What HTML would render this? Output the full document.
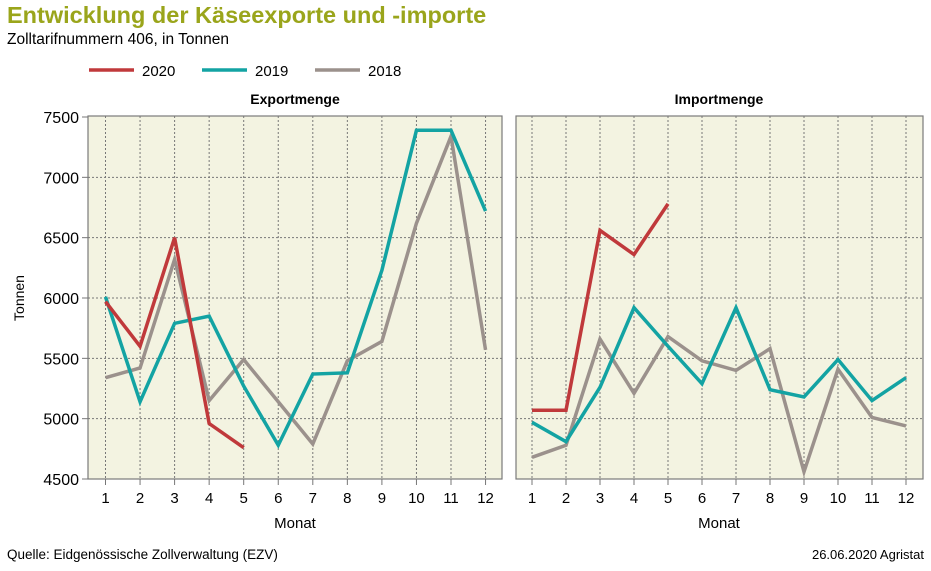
<!DOCTYPE html>
<html><head><meta charset="utf-8"><style>
body{margin:0;background:#fff;width:931px;height:566px;overflow:hidden;font-family:"Liberation Sans",sans-serif}
</style></head><body>
<svg id="s" width="931" height="566" xmlns="http://www.w3.org/2000/svg" font-family="Liberation Sans, sans-serif">
<text x="7" y="23" font-size="23.5" font-weight="bold" fill="#9aa51b">Entwicklung der Käseexporte und -importe</text>
<text x="7" y="44" font-size="15.5" fill="#000">Zolltarifnummern 406, in Tonnen</text>
<line x1="89" y1="70" x2="134" y2="70" stroke="#c0393b" stroke-width="3.5"/>
<text x="142" y="76" font-size="15">2020</text>
<line x1="202" y1="70" x2="247" y2="70" stroke="#13a3a3" stroke-width="3.5"/>
<text x="255" y="76" font-size="15">2019</text>
<line x1="315" y1="70" x2="360" y2="70" stroke="#9b918c" stroke-width="3.5"/>
<text x="368" y="76" font-size="15">2018</text>
<text x="295" y="104" font-size="14" font-weight="bold" text-anchor="middle">Exportmenge</text>
<text x="719" y="104" font-size="14" font-weight="bold" text-anchor="middle">Importmenge</text>
<text x="24" y="298" font-size="14" text-anchor="middle" transform="rotate(-90 24 298)">Tonnen</text>
<text x="295" y="528" font-size="15" text-anchor="middle">Monat</text>
<text x="719" y="528" font-size="15" text-anchor="middle">Monat</text>
<text x="7" y="559" font-size="13.5">Quelle: Eidgenössische Zollverwaltung (EZV)</text>
<text x="924" y="559" font-size="13" text-anchor="end">26.06.2020 Agristat</text>
<g id="g"></g>
</svg>
<script>
var g=document.getElementById('g'),h='';
function Y(v){return 117+(7500-v)*0.12067;}
var P=[{l:88,r:502,x0:105.5,dx:34.55,d:[[5970,5600,6500,4960,4760],[6010,5140,5790,5850,5270,4780,5370,5380,6230,7390,7390,6720],[5340,5420,6320,5150,5490,5140,4790,5480,5640,6620,7340,5570]]},
{l:516,r:923,x0:532,dx:34,d:[[5070,5070,6560,6360,6780],[4970,4810,5260,5920,5600,5290,5920,5240,5180,5490,5150,5340],[4680,4780,5660,5210,5680,5480,5400,5580,4560,5410,5010,4940]]}];
var C=['#c0393b','#13a3a3','#9b918c'];
P.forEach(function(p,pi){
h+='<rect x="'+p.l+'" y="116" width="'+(p.r-p.l)+'" height="363" fill="#f3f3e1" stroke="#7a7a7a" stroke-width="1.2"/>';
for(var v=5000;v<=7000;v+=500)h+='<line x1="'+p.l+'" x2="'+p.r+'" y1="'+Y(v)+'" y2="'+Y(v)+'" stroke="#777" stroke-dasharray="2,2"/>';
for(var i=0;i<12;i++){var x=p.x0+i*p.dx;h+='<line x1="'+x+'" x2="'+x+'" y1="116" y2="479" stroke="#777" stroke-dasharray="2,2"/><line x1="'+x+'" x2="'+x+'" y1="479" y2="485" stroke="#777"/><text x="'+x+'" y="503" font-size="15" text-anchor="middle">'+(i+1)+'</text>';}
if(pi==0)for(var v=4500;v<=7500;v+=500){h+='<line x1="82" x2="88" y1="'+Y(v)+'" y2="'+Y(v)+'" stroke="#777"/><text x="79" y="'+(Y(v)+6)+'" font-size="16" text-anchor="end">'+v+'</text>';}
for(var k=2;k>=0;k--){var pts=p.d[k].map(function(v,i){return (p.x0+i*p.dx)+','+Y(v)}).join(' ');
h+='<polyline points="'+pts+'" fill="none" stroke="'+C[k]+'" stroke-width="3.5" stroke-linejoin="miter"/>';}
});
g.innerHTML=h;
</script>
</body></html>
